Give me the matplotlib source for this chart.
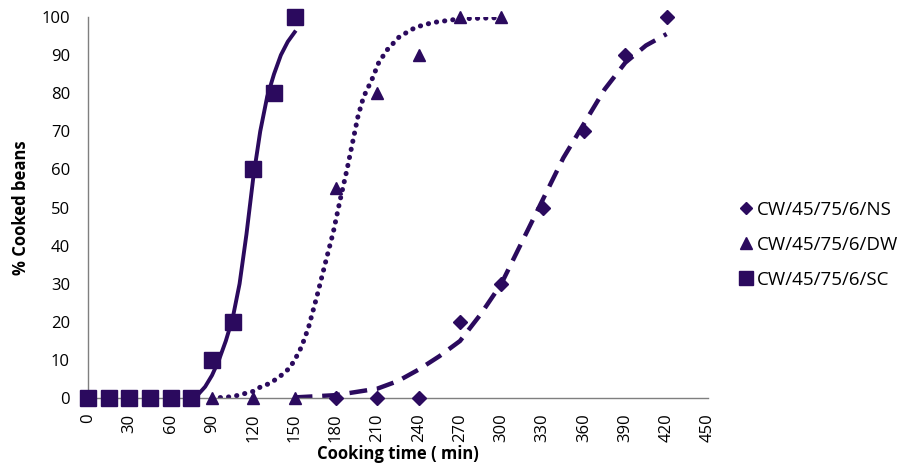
import numpy as np
import matplotlib.pyplot as plt

plt.rcParams['font.family'] = ['Open Sans', 'DejaVu Sans']

col = '#2b0a5e'

# measured points
ns_x = [180, 210, 240, 270, 300, 330, 360, 390, 420]
ns_y = [0, 0, 0, 20, 30, 50, 70, 90, 100]
dw_x = [0, 15, 30, 45, 60, 75, 90, 120, 150, 180, 210, 240, 270, 300]
dw_y = [0, 0, 0, 0, 0, 0, 0, 0, 0, 55, 80, 90, 100, 100]
sc_x = [0, 15, 30, 45, 60, 75, 90, 105, 120, 135, 150]
sc_y = [0, 0, 0, 0, 0, 0, 10, 20, 60, 80, 100]

# trend lines
ns_fx = [150, 180, 210, 225, 240, 255, 270, 285, 300, 315, 330, 345, 360, 375, 390, 405, 420]
ns_fy = [0.2, 0.8, 2.5, 4.5, 7.5, 11, 15, 22, 30, 41, 52, 63, 72, 81, 88, 92.5, 95.5]
dw_fx = [90, 105, 120, 125, 132, 139, 146, 150, 155, 160, 166, 173, 178, 183, 188,
         192, 196, 200, 206, 211, 217, 226, 238, 250, 270, 300]
dw_fy = [0, 0.4, 1.8, 2.9, 3.9, 5.6, 7.8, 10, 13.5, 18.5, 26.5, 36.5, 43.5, 52, 60,
         67, 74, 79, 83.5, 88, 91.3, 94.8, 97.3, 98.5, 99.5, 99.8]
sc_fx = [75, 80, 85, 90, 95, 100, 105, 110, 115, 120, 125, 130, 135, 140, 145, 150]
sc_fy = [0, 1, 3, 6, 10, 15, 21, 30, 43, 58, 70, 79, 85, 90, 93.5, 96]

xticks = list(range(0, 451, 30))
yticks = list(range(0, 101, 10))

fig = plt.figure(figsize=(9.03, 4.69), dpi=100)
ax = fig.add_axes([0.0975, 0.151, 0.6865, 0.813])

ax.plot(ns_x, ns_y, 'D', color=col, ms=7, clip_on=False, zorder=3, label='CW/45/75/6/NS')
ax.plot(dw_x, dw_y, '^', color=col, ms=9, clip_on=False, zorder=3, label='CW/45/75/6/DW')
ax.plot(sc_x, sc_y, 's', color=col, ms=11, clip_on=False, zorder=3, label='CW/45/75/6/SC')

ax.plot(ns_fx, ns_fy, color=col, lw=3.2, dashes=(4, 2.2), zorder=2)
ax.plot(dw_fx, dw_fy, color=col, lw=3.6, ls=(0, (0.05, 1.6)), dash_capstyle='round', zorder=2)
ax.plot(sc_fx, sc_fy, color=col, lw=2.8, zorder=2)

ax.set_xlim(0, 450)
ax.set_ylim(0, 100)
ax.set_xticks(xticks)
ax.set_yticks(yticks)
ax.tick_params(axis='x', labelrotation=90, length=0, labelsize=12, pad=11)
ax.tick_params(axis='y', length=0, labelsize=12, pad=13)
for s in ['top', 'right']:
    ax.spines[s].set_visible(False)
for s in ['left', 'bottom']:
    ax.spines[s].set_color('#7f7f7f')
    ax.spines[s].set_linewidth(1)

ax.set_xlabel('Cooking time ( min)', fontsize=12, fontweight='bold', labelpad=2)
ax.set_ylabel('% Cooked beans', fontsize=12, fontweight='bold', labelpad=8)

fig.legend(loc='center left', bbox_to_anchor=(0.8, 0.478), frameon=False,
           fontsize=13.5, handlelength=0.7, handletextpad=0.25, labelspacing=0.9,
           markerscale=0.9)

fig.savefig('out.png', dpi=100)
